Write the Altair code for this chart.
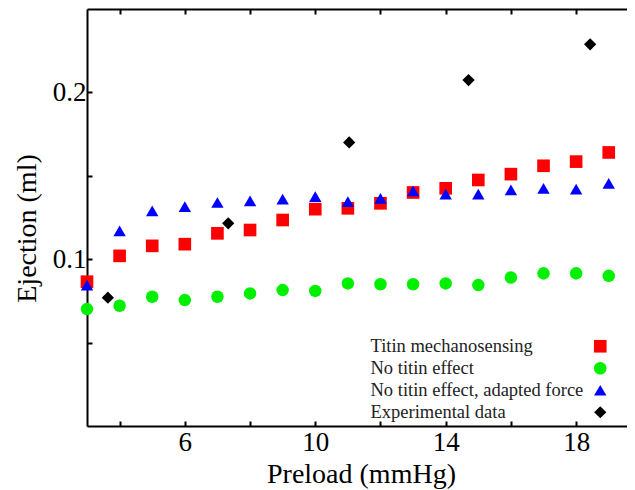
import altair as alt
import pandas as pd

# ---- data ----
series_names = ["Titin mechanosensing", "No titin effect",
                "No titin effect, adapted force", "Experimental data"]

sim_preload = [3, 4, 5, 6, 7, 8, 9, 10, 11, 12, 13, 14, 15, 16, 17, 18, 19, 20]
titin = [0.0865, 0.102, 0.108, 0.109, 0.1155, 0.1175, 0.1235, 0.130, 0.1305,
         0.1335, 0.140, 0.1425, 0.1475, 0.151, 0.156, 0.1585, 0.164, 0.1655]
no_titin_preload = [3, 4, 5, 6, 7, 8, 9, 10, 11, 12, 13, 14, 15, 16, 17, 18, 19]
no_titin = [0.0701, 0.0721, 0.0775, 0.0755, 0.0775, 0.0795, 0.0815, 0.081, 0.0855,
            0.085, 0.085, 0.0855, 0.0845, 0.089, 0.0915, 0.0915, 0.090]
adapted = [0.0845, 0.117, 0.129, 0.1315, 0.134, 0.135, 0.136, 0.1375, 0.1345,
           0.1365, 0.141, 0.139, 0.139, 0.1415, 0.1425, 0.142, 0.1455, 0.1385]
exp_preload = [3.64, 7.33, 11.04, 14.70, 18.43]
exp_ejection = [0.0769, 0.1215, 0.170, 0.2074, 0.2288]

x_ticks = [4, 6, 8, 10, 12, 14, 16, 18]
y_ticks = [0.05, 0.1, 0.15, 0.2]

rows = []
for x, y in zip(sim_preload, titin):
    rows.append({"series": series_names[0], "preload": x, "ejection": y})
for x, y in zip(no_titin_preload, no_titin):
    rows.append({"series": series_names[1], "preload": x, "ejection": y})
for x, y in zip(sim_preload, adapted):
    rows.append({"series": series_names[2], "preload": x, "ejection": y})
for x, y in zip(exp_preload, exp_ejection):
    rows.append({"series": series_names[3], "preload": x, "ejection": y})
df = pd.DataFrame(rows)

FONT = "Liberation Serif"

xscale = alt.Scale(domain=[3, 19.56], nice=False, zero=False)
yscale = alt.Scale(domain=[0, 0.25], nice=False, zero=False)

points = alt.Chart(df).mark_point(filled=True, opacity=1, strokeWidth=0).encode(
    x=alt.X("preload:Q", scale=xscale,
            axis=alt.Axis(orient="bottom", values=x_ticks, title="Preload (mmHg)",
                          labelExpr="(datum.value == 6 || datum.value == 10 || datum.value == 14 || datum.value == 18) ? datum.label : ''",
                          tickSize={"expr": "-5"}, labelPadding=8,
                          titleX=274, titleY=56, titleBaseline="alphabetic",
                          grid=False, domainColor="black", tickColor="black",
                          domainWidth=2, tickWidth=2,
                          labelFont=FONT, labelFontSize=27, labelColor="black",
                          titleFont=FONT, titleFontSize=28, titleFontWeight="normal",
                          titleColor="black")),
    y=alt.Y("ejection:Q", scale=yscale,
            axis=alt.Axis(orient="left", values=y_ticks, title="Ejection (ml)",
                          labelExpr="(abs(datum.value - 0.1) < 1e-9 || abs(datum.value - 0.2) < 1e-9) ? format(datum.value, '.1f') : ''",
                          tickSize={"expr": "-5"}, labelPadding=6,
                          titleX=-52, titleY=219, titleBaseline="alphabetic",
                          grid=False, domainColor="black", tickColor="black",
                          domainWidth=2, tickWidth=2,
                          labelFont=FONT, labelFontSize=27, labelColor="black",
                          titleFont=FONT, titleFontSize=28, titleFontWeight="normal",
                          titleColor="black")),
    color=alt.Color("series:N",
                    scale=alt.Scale(domain=series_names,
                                    range=["#ff0000", "#00f000", "#0000ff", "#000000"]),
                    legend=alt.Legend(title=None, orient="none", legendX=283, legendY=328,
                                      labelFont=FONT, labelFontSize=18.5, labelColor="#222222",
                                      symbolOffset=221, labelOffset={"expr": "-239"},
                                      rowPadding=3, padding=0, labelLimit=400)),
    shape=alt.Shape("series:N",
                    scale=alt.Scale(domain=series_names,
                                    range=["square", "circle", "triangle-up", "diamond"])),
    size=alt.Size("series:N",
                  scale=alt.Scale(domain=series_names, range=[160, 150, 230, 120])),
)

top_axis = alt.Chart(df).mark_point(opacity=0).encode(
    x=alt.X("preload:Q", scale=xscale,
            axis=alt.Axis(orient="top", values=x_ticks, title=None, labels=False,
                          tickSize={"expr": "-5"}, grid=False, domainColor="black",
                          tickColor="black", domainWidth=2, tickWidth=2)),
)

chart = alt.layer(points, top_axis).properties(
    width=540, height=417,
    autosize=alt.AutoSizeParams(type="none"),
    padding={"left": 79, "top": 1, "right": 0, "bottom": 64},
).configure_view(stroke=None).configure(background="white")

chart.save("out.html", embed_options={"renderer": "svg", "actions": False})
